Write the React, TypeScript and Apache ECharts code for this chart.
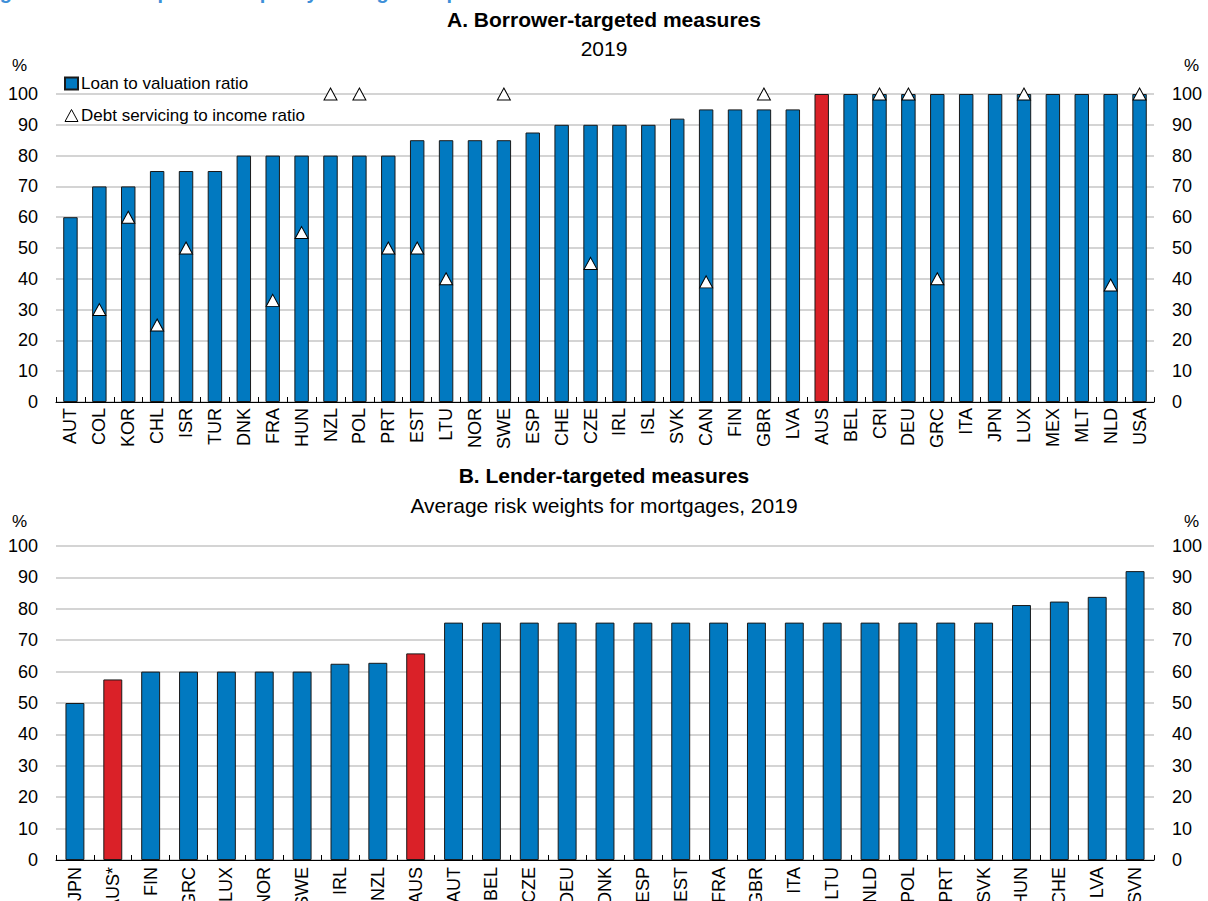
import React, { useEffect, useRef } from "react";
import * as echarts from "echarts";

const CAT_A = ["AUT","COL","KOR","CHL","ISR","TUR","DNK","FRA","HUN","NZL","POL","PRT","EST","LTU","NOR","SWE","ESP","CHE","CZE","IRL","ISL","SVK","CAN","FIN","GBR","LVA","AUS","BEL","CRI","DEU","GRC","ITA","JPN","LUX","MEX","MLT","NLD","USA"];
const LTV = [60,70,70,75,75,75,80,80,80,80,80,80,85,85,85,85,87.5,90,90,90,90,92,95,95,95,95,100,100,100,100,100,100,100,100,100,100,100,100];
const DSTI = [null,30,60,25,50,null,null,33,55,100,100,50,50,40,null,100,null,null,45,null,null,null,39,null,100,null,null,null,100,100,40,null,null,100,null,null,38,100];
const HIGHLIGHT_A = ["AUS"];

const CAT_B = ["JPN","AUS*","FIN","GRC","LUX","NOR","SWE","IRL","NZL","AUS","AUT","BEL","CZE","DEU","DNK","ESP","EST","FRA","GBR","ITA","LTU","NLD","POL","PRT","SVK","HUN","CHE","LVA","SVN"];
const RW = [50,57.5,60,60,60,60,60,62.5,62.8,65.8,75.6,75.6,75.6,75.6,75.6,75.6,75.6,75.6,75.6,75.6,75.6,75.6,75.6,75.6,75.6,81.2,82.3,83.8,92];
const HIGHLIGHT_B = ["AUS*","AUS"];

const BLUE = "#0179C0";
const RED = "#DA2128";
const NARROW = "'Liberation Sans Narrow', 'Arial Narrow', 'Liberation Sans', Arial, sans-serif";
const SANS = "'Liberation Sans', Arial, sans-serif";

export default function App() {
  const ref = useRef<HTMLDivElement>(null);
  useEffect(() => {
    if (!ref.current) return;
    const chart = echarts.init(ref.current, undefined, { renderer: "svg" });
    const xAxisBase = (gridIndex: number, data: string[], margin: number) => ({
      type: "category",
      gridIndex,
      data,
      axisLine: { show: true, lineStyle: { color: "#000", width: 1 } },
      axisTick: { show: true, inside: true, length: 5, alignWithLabel: false, interval: 0, lineStyle: { color: "#000" } },
      axisLabel: { rotate: 90, interval: 0, fontSize: 18, fontFamily: SANS, color: "#000", margin },
      splitLine: { show: false },
    });
    const yAxisBase = (gridIndex: number, position: string, split: boolean) => ({
      type: "value",
      gridIndex,
      position,
      min: 0,
      max: 100,
      interval: 10,
      axisLine: { show: false },
      axisTick: { show: false },
      axisLabel: { fontSize: 18, fontFamily: NARROW, color: "#000", margin: 18 },
      splitLine: { show: split, lineStyle: { color: "#c6c6c6", width: 1.5 } },
    });
    const barData = (cats: string[], vals: number[], hi: string[]) =>
      vals.map((v, i) => (hi.includes(cats[i]) ? { value: v, itemStyle: { color: RED } } : v));

    const titleStyle = (bold: boolean) => ({ fontSize: 21, fontWeight: bold ? "bold" : "normal", fontFamily: NARROW, color: "#000" });

    chart.setOption({
      animation: false,
      title: [
        { text: "A. Borrower-targeted measures", left: "center", top: 9, padding: 0, textStyle: titleStyle(true) },
        { text: "2019", left: "center", top: 38, padding: 0, textStyle: titleStyle(false) },
        { text: "B. Lender-targeted measures", left: "center", top: 465, padding: 0, textStyle: titleStyle(true) },
        { text: "Average risk weights for mortgages, 2019", left: "center", top: 495, padding: 0, textStyle: titleStyle(false) },
      ],
      legend: {
        orient: "vertical",
        left: 64,
        top: 75,
        itemGap: 15,
        itemWidth: 13,
        itemHeight: 12,
        padding: 0,
        textStyle: { fontSize: 17, fontFamily: NARROW, color: "#000", padding: [0, 0, 0, -2] },
        data: [
          { name: "Loan to valuation ratio", icon: "rect" },
          { name: "Debt servicing to income ratio", icon: "triangle", itemStyle: { color: "#fff", borderColor: "#000", borderWidth: 1 } },
        ],
      },
      grid: [
        { left: 56, right: 54, top: 94, bottom: 499, outerBoundsMode: "none", containLabel: false },
        { left: 56, right: 54, top: 546, bottom: 41, outerBoundsMode: "none", containLabel: false },
      ],
      xAxis: [xAxisBase(0, CAT_A, 6), xAxisBase(1, CAT_B, 7)],
      yAxis: [
        yAxisBase(0, "left", true),
        yAxisBase(0, "right", false),
        yAxisBase(1, "left", true),
        yAxisBase(1, "right", false),
      ],
      graphic: [
        { type: "text", left: -18, top: -18, style: { text: "Figure 1.10. Macroprudential policy settings compared across OECD countries", fontSize: 20, fontWeight: "bold", fontFamily: NARROW, fill: "#3D8FD8" } },
        { type: "text", left: 12, top: 57, style: { text: "%", fontSize: 17, fontFamily: NARROW, fill: "#000" } },
        { type: "text", left: 1184, top: 57, style: { text: "%", fontSize: 17, fontFamily: NARROW, fill: "#000" } },
        { type: "text", left: 12, top: 513, style: { text: "%", fontSize: 17, fontFamily: NARROW, fill: "#000" } },
        { type: "text", left: 1184, top: 513, style: { text: "%", fontSize: 17, fontFamily: NARROW, fill: "#000" } },
      ],
      series: [
        {
          name: "Loan to valuation ratio",
          type: "bar",
          xAxisIndex: 0,
          yAxisIndex: 0,
          barWidth: "50%",
          itemStyle: { color: BLUE, borderColor: "#1a1a1a", borderWidth: 1 },
          data: barData(CAT_A, LTV, HIGHLIGHT_A),
        },
        {
          name: "Debt servicing to income ratio",
          type: "scatter",
          xAxisIndex: 0,
          yAxisIndex: 0,
          symbol: "triangle",
          symbolSize: [13, 12],
          itemStyle: { color: "#fff", borderColor: "#000", borderWidth: 1, opacity: 1 },
          z: 5,
          data: DSTI,
        },
        {
          name: "Average risk weights",
          type: "bar",
          xAxisIndex: 1,
          yAxisIndex: 2,
          barWidth: "50%",
          itemStyle: { color: BLUE, borderColor: "#1a1a1a", borderWidth: 1 },
          data: barData(CAT_B, RW, HIGHLIGHT_B),
        },
      ],
    });
    return () => chart.dispose();
  }, []);
  return <div ref={ref} style={{ position: "fixed", left: 0, top: 0, width: 1208, height: 901, background: "#fff" }} />;
}
